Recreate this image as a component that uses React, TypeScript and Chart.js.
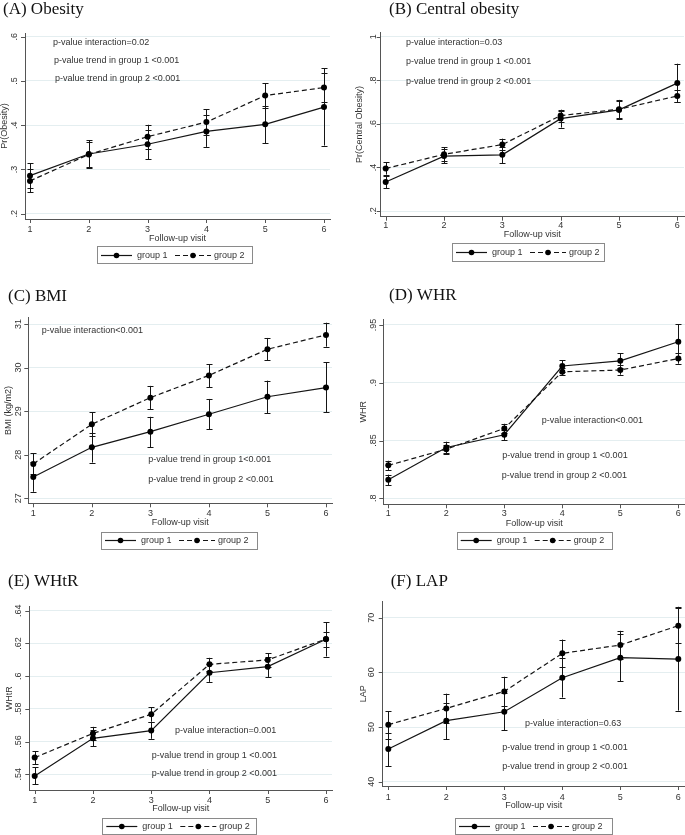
import React, { useEffect, useRef } from 'react';
import { Chart, registerables } from 'chart.js';
Chart.register(...registerables);

const visits = [1, 2, 3, 4, 5, 6];
const visitLabels = ['1', '2', '3', '4', '5', '6'];
const groupLabels = ['group 1', 'group 2'];
const xAxisTitle = 'Follow-up visit';

// (A) Obesity
const obesityG1 = [0.286, 0.335, 0.357, 0.386, 0.402, 0.441];
const obesityG1Lo = [0.257, 0.304, 0.323, 0.351, 0.359, 0.354];
const obesityG1Hi = [0.314, 0.366, 0.390, 0.423, 0.444, 0.529];
const obesityG2 = [0.274, 0.334, 0.374, 0.407, 0.467, 0.485];
const obesityG2Lo = [0.248, 0.305, 0.347, 0.378, 0.440, 0.453];
const obesityG2Hi = [0.300, 0.363, 0.401, 0.436, 0.495, 0.517];
const obesityTicks = [0.2, 0.3, 0.4, 0.5, 0.6];
const obesityTickLabels = ['.2', '.3', '.4', '.5', '.6'];

// (B) Central obesity
const centralG1 = [0.333, 0.452, 0.458, 0.624, 0.664, 0.787];
const centralG1Lo = [0.305, 0.420, 0.420, 0.583, 0.620, 0.700];
const centralG1Hi = [0.362, 0.485, 0.495, 0.660, 0.705, 0.876];
const centralG2 = [0.395, 0.460, 0.505, 0.638, 0.667, 0.728];
const centralG2Lo = [0.367, 0.428, 0.478, 0.610, 0.628, 0.700];
const centralG2Hi = [0.423, 0.492, 0.532, 0.665, 0.710, 0.755];
const centralTicks = [0.2, 0.4, 0.6, 0.8, 1];
const centralTickLabels = ['.2', '.4', '.6', '.8', '1'];

// (C) BMI
const bmiG1 = [27.49, 28.17, 28.53, 28.93, 29.33, 29.54];
const bmiG1Lo = [27.15, 27.82, 28.17, 28.58, 28.95, 28.97];
const bmiG1Hi = [27.83, 28.50, 28.87, 29.28, 29.70, 30.12];
const bmiG2 = [27.79, 28.70, 29.31, 29.82, 30.42, 30.75];
const bmiG2Lo = [27.55, 28.42, 29.05, 29.55, 30.17, 30.48];
const bmiG2Hi = [28.03, 28.97, 29.58, 30.08, 30.68, 31.03];
const bmiTicks = [27, 28, 29, 30, 31];
const bmiTickLabels = ['27', '28', '29', '30', '31'];

// (D) WHR
const whrG1 = [0.816, 0.844, 0.855, 0.9145, 0.919, 0.9355];
const whrG1Lo = [0.8115, 0.8395, 0.8505, 0.9095, 0.9125, 0.921];
const whrG1Hi = [0.8205, 0.849, 0.8595, 0.9195, 0.9255, 0.9505];
const whrG2 = [0.8285, 0.8425, 0.8605, 0.9095, 0.911, 0.921];
const whrG2Lo = [0.8245, 0.8385, 0.8565, 0.9065, 0.907, 0.9165];
const whrG2Hi = [0.8325, 0.8465, 0.8645, 0.9125, 0.915, 0.9255];
const whrTicks = [0.8, 0.85, 0.9, 0.95];
const whrTickLabels = ['.8', '.85', '.9', '.95'];

// (E) WHtR
const whtrG1 = [0.539, 0.562, 0.5667, 0.6021, 0.6058, 0.6225];
const whtrG1Lo = [0.534, 0.557, 0.5617, 0.5965, 0.5995, 0.612];
const whtrG1Hi = [0.5442, 0.567, 0.5722, 0.6075, 0.612, 0.633];
const whtrG2 = [0.5502, 0.565, 0.5767, 0.6072, 0.6099, 0.6227];
const whtrG2Lo = [0.546, 0.561, 0.5722, 0.603, 0.6055, 0.6178];
const whtrG2Hi = [0.5542, 0.569, 0.581, 0.6112, 0.614, 0.6268];
const whtrTicks = [0.54, 0.56, 0.58, 0.6, 0.62, 0.64];
const whtrTickLabels = ['.54', '.56', '.58', '.6', '.62', '.64'];

// (F) LAP
const lapG1 = [45.98, 51.16, 52.8, 59.02, 62.68, 62.44];
const lapG1Lo = [42.8, 47.8, 49.4, 55.4, 58.4, 53.0];
const lapG1Hi = [49.0, 54.4, 56.2, 62.6, 67.1, 71.8];
const lapG2 = [50.43, 53.41, 56.52, 63.48, 65.0, 68.54];
const lapG2Lo = [47.9, 50.8, 53.8, 60.9, 62.5, 65.4];
const lapG2Hi = [52.9, 56.1, 59.2, 66.0, 67.6, 72.0];
const lapTicks = [40, 50, 60, 70];
const lapTickLabels = ['40', '50', '60', '70'];

const trend1 = 'p-value trend in group 1 <0.001';
const trend2 = 'p-value trend in group 2 <0.001';

const panels = [
  {
    title: '(A) Obesity', yTitle: 'Pr(Obesity)',
    g1: obesityG1, g1Lo: obesityG1Lo, g1Hi: obesityG1Hi, g2: obesityG2, g2Lo: obesityG2Lo, g2Hi: obesityG2Hi,
    ticks: obesityTicks, tickLabels: obesityTickLabels,
    notes: ['p-value interaction=0.02', trend1, trend2],
  },
  {
    title: '(B) Central obesity', yTitle: 'Pr(Central Obesity)',
    g1: centralG1, g1Lo: centralG1Lo, g1Hi: centralG1Hi, g2: centralG2, g2Lo: centralG2Lo, g2Hi: centralG2Hi,
    ticks: centralTicks, tickLabels: centralTickLabels,
    notes: ['p-value interaction=0.03', trend1, trend2],
  },
  {
    title: '(C) BMI', yTitle: 'BMI (kg/m2)',
    g1: bmiG1, g1Lo: bmiG1Lo, g1Hi: bmiG1Hi, g2: bmiG2, g2Lo: bmiG2Lo, g2Hi: bmiG2Hi,
    ticks: bmiTicks, tickLabels: bmiTickLabels,
    notes: ['p-value interaction<0.001', 'p-value trend in group 1<0.001', trend2],
  },
  {
    title: '(D) WHR', yTitle: 'WHR',
    g1: whrG1, g1Lo: whrG1Lo, g1Hi: whrG1Hi, g2: whrG2, g2Lo: whrG2Lo, g2Hi: whrG2Hi,
    ticks: whrTicks, tickLabels: whrTickLabels,
    notes: ['p-value interaction<0.001', trend1, trend2],
  },
  {
    title: '(E) WHtR', yTitle: 'WHtR',
    g1: whtrG1, g1Lo: whtrG1Lo, g1Hi: whtrG1Hi, g2: whtrG2, g2Lo: whtrG2Lo, g2Hi: whtrG2Hi,
    ticks: whtrTicks, tickLabels: whtrTickLabels,
    notes: ['p-value interaction=0.001', trend1, trend2],
  },
  {
    title: '(F) LAP', yTitle: 'LAP',
    g1: lapG1, g1Lo: lapG1Lo, g1Hi: lapG1Hi, g2: lapG2, g2Lo: lapG2Lo, g2Hi: lapG2Hi,
    ticks: lapTicks, tickLabels: lapTickLabels,
    notes: ['p-value interaction=0.63', trend1, trend2],
  },
];

// Layout (page pixel coordinates)
const layouts = [
  { canvas: [0, 0, 342, 272], area: [25, 33, 330, 219], xAnchor: [30, 324], yAnchor: [213.7, 36.7],
    title: [3, 10], yLabX: 15, yTitleX: 5, xLabY: 230, xTitleY: 238.5, legend: [97, 246, 155, 17],
    notes: [[53, 43], [54, 61], [55, 79]] },
  { canvas: [342, 0, 343, 272], area: [380.7, 32.3, 684, 216.7], xAnchor: [385.7, 677.3], yAnchor: [211, 36.7],
    title: [389, 10], yLabX: 373.3, yTitleX: 360, xLabY: 225.3, xTitleY: 235, legend: [452, 243, 152, 18],
    notes: [[406, 42.7], [406, 61.7], [406, 81.7]] },
  { canvas: [0, 272, 342, 286], area: [28.3, 317.7, 332, 503.3], xAnchor: [33.3, 326], yAnchor: [498.3, 324],
    title: [8, 296.7], yLabX: 18.3, yTitleX: 9, xLabY: 513.3, xTitleY: 522.3, legend: [101, 531.7, 156, 16.5],
    notes: [[41.7, 331], [148.3, 460], [148.3, 480]] },
  { canvas: [342, 272, 343, 286], area: [383.3, 319.3, 685, 504.3], xAnchor: [388.3, 678.3], yAnchor: [498.3, 325],
    title: [389, 295.7], yLabX: 373.3, yTitleX: 363.3, xLabY: 513.3, xTitleY: 523.3, legend: [456.7, 531.7, 155, 16.5],
    notes: [[541.7, 420.7], [502.3, 455.7], [501.7, 476]] },
  { canvas: [0, 558, 342, 277], area: [29.3, 606.7, 332, 790], xAnchor: [34.7, 326], yAnchor: [774.3, 610.7],
    title: [8, 581.7], yLabX: 18.3, yTitleX: 10, xLabY: 801, xTitleY: 809, legend: [102.3, 818.3, 154.4, 16],
    notes: [[175, 730.7], [151.7, 755.7], [151.7, 774]] },
  { canvas: [342, 558, 343, 277], area: [382.7, 601.7, 685, 786], xAnchor: [388.3, 678.3], yAnchor: [781.7, 617.7],
    title: [390.7, 581.7], yLabX: 371.7, yTitleX: 363.3, xLabY: 797.7, xTitleY: 805.7, legend: [455, 818.3, 156.7, 16],
    notes: [[525, 723.3], [502.3, 747.3], [502.3, 766.7]] },
];

const SMALL_FONT = '9px "Liberation Sans", Arial, sans-serif';
const TITLE_FONT = '17px "Liberation Serif", "Times New Roman", serif';
const TEXT_COLOR = '#333333';
const AXIS_COLOR = '#555555';
const GRID_COLOR = '#e4eef0';
const LINE_COLOR = '#151515';

function makeChart(canvas: HTMLCanvasElement, panel: any, lay: any) {
  const [cx, cy, cw, ch] = lay.canvas;
  const [al, at, ar, ab] = lay.area;
  const ppuX = (lay.xAnchor[1] - lay.xAnchor[0]) / (visits[visits.length - 1] - visits[0]);
  const xMin = visits[0] - (lay.xAnchor[0] - al) / ppuX;
  const xMax = visits[visits.length - 1] + (ar - lay.xAnchor[1]) / ppuX;
  const t0 = panel.ticks[0];
  const t1 = panel.ticks[panel.ticks.length - 1];
  const ppuY = (lay.yAnchor[0] - lay.yAnchor[1]) / (t1 - t0);
  const yMin = t0 - (ab - lay.yAnchor[0]) / ppuY;
  const yMax = t1 + (lay.yAnchor[1] - at) / ppuY;

  const errs = [
    { lo: panel.g1Lo, hi: panel.g1Hi },
    { lo: panel.g2Lo, hi: panel.g2Hi },
  ];

  const errorBars = {
    id: 'errorBars',
    beforeDatasetsDraw(chart: any) {
      const ctx = chart.ctx;
      const xs = chart.scales.x;
      const ys = chart.scales.y;
      ctx.save();
      ctx.strokeStyle = LINE_COLOR;
      ctx.lineWidth = 1;
      errs.forEach((e) => {
        visits.forEach((v, i) => {
          const px = Math.round(xs.getPixelForValue(v)) + 0.5;
          const pLo = ys.getPixelForValue(e.lo[i]);
          const pHi = ys.getPixelForValue(e.hi[i]);
          ctx.beginPath();
          ctx.moveTo(px, pLo);
          ctx.lineTo(px, pHi);
          ctx.moveTo(px - 3, Math.round(pLo) + 0.5);
          ctx.lineTo(px + 3, Math.round(pLo) + 0.5);
          ctx.moveTo(px - 3, Math.round(pHi) + 0.5);
          ctx.lineTo(px + 3, Math.round(pHi) + 0.5);
          ctx.stroke();
        });
      });
      ctx.restore();
    },
  };

  const decorations = {
    id: 'decorations',
    afterDraw(chart: any) {
      const ctx = chart.ctx;
      const xs = chart.scales.x;
      const ys = chart.scales.y;
      const area = chart.chartArea;
      ctx.save();
      // tick marks
      ctx.strokeStyle = AXIS_COLOR;
      ctx.lineWidth = 1;
      ctx.beginPath();
      panel.ticks.forEach((t: number) => {
        const py = Math.round(ys.getPixelForValue(t)) + 0.5;
        ctx.moveTo(area.left - 4, py);
        ctx.lineTo(area.left, py);
      });
      visits.forEach((v) => {
        const px = Math.round(xs.getPixelForValue(v)) + 0.5;
        ctx.moveTo(px, area.bottom);
        ctx.lineTo(px, area.bottom + 4);
      });
      ctx.stroke();

      ctx.fillStyle = TEXT_COLOR;
      ctx.font = SMALL_FONT;
      // y tick labels (rotated)
      ctx.textAlign = 'center';
      ctx.textBaseline = 'middle';
      panel.ticks.forEach((t: number, i: number) => {
        const py = ys.getPixelForValue(t);
        ctx.save();
        ctx.translate(lay.yLabX - cx, py);
        ctx.rotate(-Math.PI / 2);
        ctx.fillText(panel.tickLabels[i], 0, 0);
        ctx.restore();
      });
      // x tick labels
      visits.forEach((v, i) => {
        ctx.fillText(visitLabels[i], xs.getPixelForValue(v), lay.xLabY - cy);
      });
      // axis titles
      ctx.fillText(xAxisTitle, (area.left + area.right) / 2, lay.xTitleY - cy);
      ctx.save();
      ctx.translate(lay.yTitleX - cx, (area.top + area.bottom) / 2);
      ctx.rotate(-Math.PI / 2);
      ctx.fillText(panel.yTitle, 0, 0);
      ctx.restore();
      // notes
      ctx.textAlign = 'left';
      panel.notes.forEach((n: string, i: number) => {
        ctx.fillText(n, lay.notes[i][0] - cx, lay.notes[i][1] - cy);
      });
      // title
      ctx.font = TITLE_FONT;
      ctx.fillStyle = '#111111';
      ctx.fillText(panel.title, lay.title[0] - cx, lay.title[1] - cy);

      // legend
      const [lx0, ly0, lw, lh] = lay.legend;
      const lx = lx0 - cx;
      const ly = ly0 - cy;
      ctx.strokeStyle = '#8a8a8a';
      ctx.lineWidth = 1;
      ctx.strokeRect(Math.round(lx) + 0.5, Math.round(ly) + 0.5, Math.round(lw), Math.round(lh));
      const my = Math.round(ly + lh / 2) + 0.5;
      ctx.strokeStyle = LINE_COLOR;
      ctx.lineWidth = 1.2;
      ctx.beginPath();
      ctx.moveTo(lx + 4, my);
      ctx.lineTo(lx + 35, my);
      ctx.stroke();
      ctx.setLineDash([5, 3]);
      ctx.beginPath();
      ctx.moveTo(lx + 78, my);
      ctx.lineTo(lx + 114, my);
      ctx.stroke();
      ctx.setLineDash([]);
      ctx.fillStyle = '#000000';
      [lx + 19.5, lx + 96].forEach((mx) => {
        ctx.beginPath();
        ctx.arc(mx, my, 2.8, 0, Math.PI * 2);
        ctx.fill();
      });
      ctx.fillStyle = TEXT_COLOR;
      ctx.font = SMALL_FONT;
      ctx.textAlign = 'left';
      ctx.fillText(groupLabels[0], lx + 40, my);
      ctx.fillText(groupLabels[1], lx + 117, my);
      ctx.restore();
    },
  };

  const pts = (arr: number[]) => visits.map((v, i) => ({ x: v, y: arr[i] }));

  return new Chart(canvas, {
    type: 'line',
    data: {
      datasets: [
        {
          label: groupLabels[0],
          data: pts(panel.g1),
          borderColor: LINE_COLOR,
          borderWidth: 1.2,
          pointRadius: 3,
          pointBackgroundColor: '#000000',
          pointBorderColor: '#000000',
          pointBorderWidth: 0,
          tension: 0,
          fill: false,
        },
        {
          label: groupLabels[1],
          data: pts(panel.g2),
          borderColor: LINE_COLOR,
          borderWidth: 1.2,
          borderDash: [5, 3],
          pointRadius: 3,
          pointBackgroundColor: '#000000',
          pointBorderColor: '#000000',
          pointBorderWidth: 0,
          tension: 0,
          fill: false,
        },
      ],
    },
    options: {
      responsive: false,
      animation: false,
      devicePixelRatio: 1,
      layout: {
        autoPadding: false,
        padding: { left: al - cx, top: at - cy, right: cx + cw - ar, bottom: cy + ch - ab },
      },
      plugins: { legend: { display: false }, title: { display: false }, tooltip: { enabled: false } },
      events: [],
      scales: {
        x: {
          type: 'linear',
          min: xMin,
          max: xMax,
          afterBuildTicks: (s: any) => { s.ticks = visits.map((v) => ({ value: v })); },
          ticks: { display: false },
          grid: { display: false, drawTicks: false },
          border: { display: true, color: AXIS_COLOR, width: 1 },
        },
        y: {
          type: 'linear',
          min: yMin,
          max: yMax,
          afterBuildTicks: (s: any) => { s.ticks = panel.ticks.map((v: number) => ({ value: v })); },
          ticks: { display: false },
          grid: { display: true, drawTicks: false, color: GRID_COLOR, lineWidth: 1 },
          border: { display: true, color: AXIS_COLOR, width: 1 },
        },
      },
    } as any,
    plugins: [errorBars, decorations],
  });
}

export default function App() {
  const refs = useRef<(HTMLCanvasElement | null)[]>([]);
  useEffect(() => {
    const charts = panels.map((p, i) => makeChart(refs.current[i] as HTMLCanvasElement, p, layouts[i]));
    return () => charts.forEach((c) => c.destroy());
  }, []);
  return (
    <div style={{ position: 'absolute', left: 0, top: 0, width: 685, height: 835, background: '#ffffff', overflow: 'hidden' }}>
      {layouts.map((l, i) => (
        <canvas
          key={i}
          ref={(el) => { refs.current[i] = el; }}
          width={l.canvas[2]}
          height={l.canvas[3]}
          style={{ position: 'absolute', left: l.canvas[0], top: l.canvas[1], width: l.canvas[2], height: l.canvas[3] }}
        />
      ))}
    </div>
  );
}
